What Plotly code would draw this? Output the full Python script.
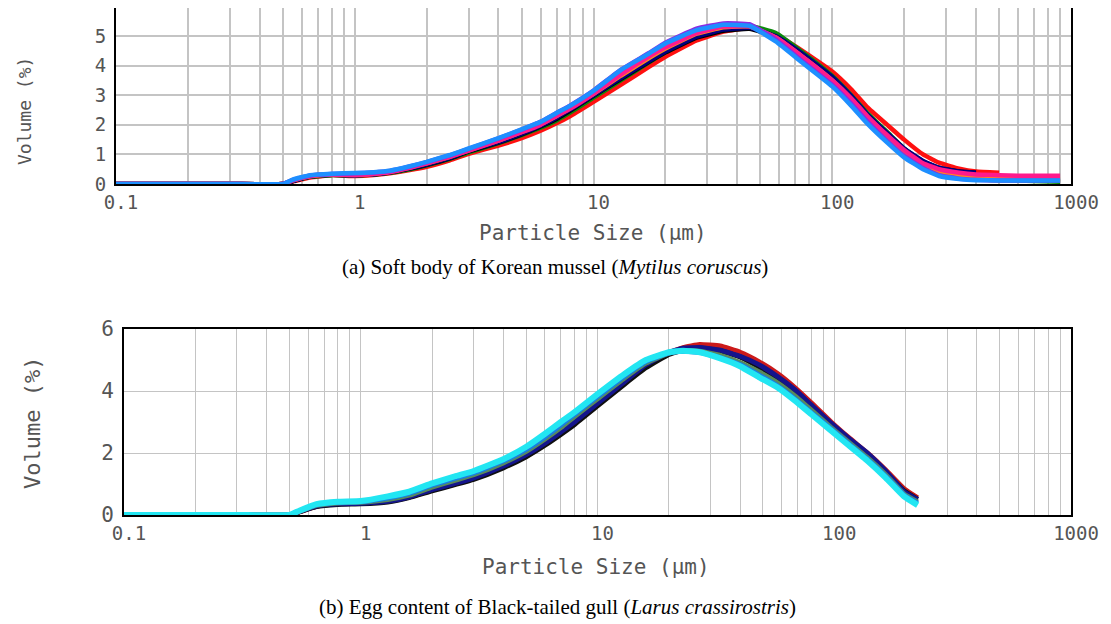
import plotly.graph_objects as go

# page is 1111x624; the HTML body adds an 8px margin, so the figure is a bit smaller
OFF = 8
W, H = 1111 - OFF, 624 - OFF


def px(x):
    return (x - OFF) / W


def py(y):
    return 1 - (y - OFF) / H


# ---------------- (a) Korean mussel ----------------
size_a = [0.1, 0.3, 0.5, 0.55, 0.65, 0.8, 1.0, 1.2, 1.4, 1.7, 2, 2.5, 3, 4, 5, 6, 7, 8, 10, 13,
          17, 20, 27, 35, 45, 58, 75, 100, 120, 140, 170, 200, 240, 280, 340, 400, 500, 600, 700, 900]

a_red = [0, 0, 0, 0.08, 0.22, 0.30, 0.27, 0.30, 0.36, 0.47, 0.58, 0.80, 1.02, 1.30, 1.55, 1.80, 2.05, 2.30, 2.78, 3.35,
         3.95, 4.30, 4.85, 5.15, 5.27, 5.05, 4.50, 3.80, 3.20, 2.60, 2.00, 1.50, 1.00, 0.72, 0.52, 0.42, 0.38, None, None, None]
a_green = [0, 0, 0, 0.10, 0.24, 0.30, 0.29, 0.32, 0.38, 0.50, 0.63, 0.85, 1.07, 1.38, 1.65, 1.90, 2.15, 2.42, 2.92, 3.50,
           4.10, 4.45, 4.98, 5.25, 5.35, 5.10, 4.45, 3.65, 3.00, 2.40, 1.75, 1.20, 0.72, 0.45, 0.25, 0.17, 0.13, 0.12, 0.10, 0.08]
a_black = [0, 0, 0, 0.10, 0.25, 0.31, 0.30, 0.33, 0.39, 0.52, 0.65, 0.87, 1.10, 1.40, 1.68, 1.95, 2.20, 2.48, 2.98, 3.55,
           4.12, 4.45, 4.95, 5.18, 5.25, 4.98, 4.38, 3.60, 2.95, 2.35, 1.70, 1.18, 0.76, 0.54, 0.42, 0.38, None, None, None, None]
a_navy = [0, 0, 0, 0.10, 0.25, 0.31, 0.30, 0.33, 0.40, 0.53, 0.66, 0.88, 1.12, 1.42, 1.70, 1.97, 2.24, 2.52, 3.00, 3.58,
          4.15, 4.48, 4.98, 5.22, 5.28, 5.00, 4.40, 3.62, 2.98, 2.36, 1.72, 1.20, 0.78, 0.55, 0.42, 0.38, None, None, None, None]
a_orange = [0, 0, 0, 0.12, 0.26, 0.32, 0.31, 0.35, 0.42, 0.56, 0.70, 0.92, 1.14, 1.47, 1.76, 2.02, 2.30, 2.57, 3.05, 3.66,
            4.25, 4.58, 5.08, 5.30, 5.33, 4.95, 4.30, 3.50, 2.88, 2.28, 1.62, 1.10, 0.66, 0.42, 0.27, 0.20, 0.17, 0.16, 0.16, 0.15]
a_magenta = [0, 0, 0, 0.12, 0.27, 0.32, 0.30, 0.34, 0.40, 0.55, 0.70, 0.92, 1.13, 1.47, 1.75, 2.00, 2.30, 2.55, 3.05, 3.70,
             4.30, 4.62, 5.10, 5.32, 5.33, 4.95, 4.30, 3.50, 2.90, 2.30, 1.65, 1.15, 0.70, 0.50, 0.38, 0.32, 0.30, 0.28, 0.28, 0.28]
a_purple = [0, 0, 0, 0.14, 0.29, 0.34, 0.36, 0.39, 0.44, 0.59, 0.74, 0.97, 1.19, 1.54, 1.84, 2.10, 2.40, 2.66, 3.16, 3.86,
            4.42, 4.78, 5.25, 5.43, 5.40, 4.88, 4.15, 3.35, 2.72, 2.12, 1.45, 0.95, 0.54, 0.30, 0.18, 0.14, 0.12, 0.12, 0.12, 0.12]
a_blue = [0, 0, 0, 0.15, 0.30, 0.35, 0.37, 0.40, 0.45, 0.60, 0.75, 0.98, 1.20, 1.55, 1.85, 2.10, 2.40, 2.65, 3.15, 3.85,
          4.40, 4.75, 5.20, 5.38, 5.35, 4.82, 4.10, 3.30, 2.65, 2.05, 1.40, 0.90, 0.50, 0.27, 0.17, 0.13, 0.12, 0.12, 0.12, 0.12]

series_a = [
    ("red", "#ff1010", a_red),
    ("green", "#0a8a0a", a_green),
    ("black", "#000000", a_black),
    ("navy", "#000080", a_navy),
    ("orange", "#ff8c1a", a_orange),
    ("magenta", "#ff1a8c", a_magenta),
    ("purple", "#8a2be2", a_purple),
    ("blue", "#1e8fff", a_blue),
]

# ---------------- (b) Black-tailed gull ----------------
size_b = [0.1, 0.3, 0.5, 0.55, 0.65, 0.8, 1.0, 1.3, 1.6, 2, 2.5, 3, 4, 5, 6, 7, 8, 10, 13, 16,
          20, 23, 27, 33, 40, 48, 58, 68, 80, 97, 115, 138, 165, 197, 225]

b_red = [0, 0, 0, 0.10, 0.28, 0.36, 0.38, 0.45, 0.58, 0.80, 1.00, 1.18, 1.55, 1.90, 2.28, 2.62, 2.95, 3.55, 4.25, 4.80,
         5.22, 5.40, 5.50, 5.45, 5.25, 4.95, 4.55, 4.12, 3.62, 3.00, 2.50, 2.00, 1.45, 0.85, 0.55]
b_black = [0, 0, 0, 0.10, 0.27, 0.34, 0.36, 0.42, 0.56, 0.78, 0.98, 1.15, 1.52, 1.88, 2.25, 2.60, 2.92, 3.52, 4.22, 4.75,
           5.18, 5.32, 5.38, 5.30, 5.10, 4.78, 4.40, 3.98, 3.50, 2.92, 2.42, 1.92, 1.38, 0.78, 0.50]
b_navy = [0, 0, 0, 0.11, 0.29, 0.36, 0.38, 0.44, 0.58, 0.82, 1.02, 1.20, 1.58, 1.95, 2.32, 2.68, 3.00, 3.60, 4.30, 4.85,
          5.25, 5.38, 5.40, 5.32, 5.12, 4.85, 4.45, 4.05, 3.55, 2.96, 2.48, 2.00, 1.42, 0.75, 0.50]
b_olive = [0, 0, 0, 0.12, 0.31, 0.39, 0.41, 0.50, 0.64, 0.90, 1.12, 1.30, 1.68, 2.05, 2.45, 2.82, 3.18, 3.75, 4.42, 4.90,
           5.22, 5.30, 5.28, 5.15, 4.92, 4.62, 4.25, 3.85, 3.38, 2.82, 2.35, 1.85, 1.30, 0.68, 0.42]
b_blue = [0, 0, 0, 0.13, 0.33, 0.41, 0.43, 0.55, 0.70, 0.96, 1.18, 1.36, 1.74, 2.12, 2.52, 2.90, 3.25, 3.82, 4.48, 4.95,
          5.22, 5.28, 5.25, 5.08, 4.85, 4.52, 4.15, 3.75, 3.30, 2.78, 2.30, 1.80, 1.25, 0.65, 0.38]
b_cyan = [0, 0, 0, 0.14, 0.35, 0.43, 0.45, 0.60, 0.75, 1.02, 1.25, 1.42, 1.80, 2.20, 2.62, 3.00, 3.32, 3.90, 4.55, 5.00,
          5.25, 5.30, 5.25, 5.05, 4.80, 4.45, 4.10, 3.70, 3.25, 2.72, 2.25, 1.75, 1.20, 0.60, 0.32]

series_b = [
    ("red", "#cc1a1a", b_red),
    ("black", "#101010", b_black),
    ("navy", "#14148c", b_navy),
    ("olive", "#5a8a5a", b_olive),
    ("blue", "#1a7fe0", b_blue),
    ("cyan", "#22e6f2", b_cyan),
]

decades = [0.1, 1, 10, 100, 1000]
decade_labels = ["0.1", "1", "10", "100", "1000"]
grid_vals = []
grid_text = []
for i, d in enumerate(decades[:-1]):
    for m in range(1, 10):
        grid_vals.append(round(d * m, 6))
        grid_text.append(decade_labels[i] if m == 1 else "")
grid_vals.append(1000)
grid_text.append("1000")

fig = go.Figure()
for name, color, vals in series_a:
    fig.add_trace(go.Scatter(x=size_a, y=vals, mode="lines", name=name,
                             line=dict(color=color, width=4.5, shape="spline", smoothing=0.35),
                             xaxis="x", yaxis="y", showlegend=False))
for name, color, vals in series_b:
    fig.add_trace(go.Scatter(x=size_b, y=vals, mode="lines", name=name,
                             line=dict(color=color, width=6 if name == "cyan" else 5,
                                       shape="spline", smoothing=0.35),
                             xaxis="x2", yaxis="y2", showlegend=False))

tick_font = dict(family="DejaVu Sans Mono", size=19, color="#555555")
title_font = dict(family="DejaVu Sans Mono", size=21, color="#555555")


def xax(domain, anchor, gw, gc):
    return dict(type="log", range=[-1, 3], domain=domain, anchor=anchor,
                tickvals=grid_vals, ticktext=grid_text, showgrid=True,
                gridcolor=gc, gridwidth=gw, showline=True, linecolor="black",
                linewidth=2, mirror=True, ticks="", zeroline=False,
                tickfont=tick_font, ticklabelshift=5, automargin=False)


def yax(domain, anchor, rng, tv, gw, gc, fs):
    return dict(range=rng, domain=domain, anchor=anchor, tickvals=tv,
                showgrid=True, gridcolor=gc, gridwidth=gw, showline=True,
                linecolor="black", linewidth=2, mirror=True, ticks="",
                zeroline=False, tickfont=dict(tick_font, size=fs),
                ticklabelstandoff=4, automargin=False)


top_x = [px(116), px(1071)]
top_y = [py(184), py(8)]
bot_x = [px(124), px(1071)]
bot_y = [py(515), py(329)]

fig.update_layout(
    width=W, height=H, margin=dict(l=0, r=0, t=0, b=0, autoexpand=False),
    paper_bgcolor="white", plot_bgcolor="white",
    xaxis=xax(top_x, "y", 2, "#c4c4c4"),
    yaxis=yax(top_y, "x", [0, 5.95], [0, 1, 2, 3, 4, 5], 2, "#c4c4c4", 19),
    xaxis2=xax(bot_x, "y2", 1.3, "#c4c4c4"),
    yaxis2=yax(bot_y, "x2", [0, 6], [0, 2, 4, 6], 1.3, "#c4c4c4", 21),
)

ann = [
    dict(text="Particle Size (µm)", x=px(593), y=py(233), font=title_font),
    dict(text="Volume (%)", x=px(25), y=py(111), textangle=-90,
         font=dict(title_font, size=18)),
    dict(text="Particle Size (µm)", x=px(596), y=py(567), font=title_font),
    dict(text="Volume (%)", x=px(32), y=py(423), textangle=-90,
         font=dict(title_font, size=22)),
    dict(text="(a) Soft body of Korean mussel (<i>Mytilus coruscus</i>)",
         x=px(555), y=py(267),
         font=dict(family="Liberation Serif", size=21, color="black")),
    dict(text="(b) Egg content of Black-tailed gull (<i>Larus crassirostris</i>)",
         x=px(557), y=py(607),
         font=dict(family="Liberation Serif", size=21, color="black")),
]
for a in ann:
    a.update(xref="paper", yref="paper", showarrow=False, xanchor="center", yanchor="middle")
fig.update_layout(annotations=ann)

fig.write_html("out.html")
